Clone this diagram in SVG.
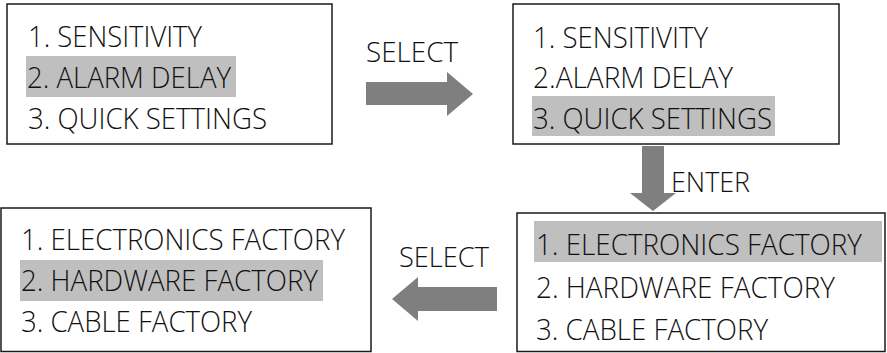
<svg xmlns="http://www.w3.org/2000/svg" width="887" height="353" viewBox="0 0 887 353">
<style>
.box{fill:#fff;stroke:#1a1a1a;stroke-width:1.5}
.hl{fill:#bfbfbf}
.t{font-family:"Open Sans","Noto Sans","Liberation Sans",sans-serif;font-weight:300;font-size:30px;fill:#111}
.t3{font-size:29px}
.lbl{font-family:"Open Sans","Noto Sans","Liberation Sans",sans-serif;font-weight:300;font-size:27.5px;fill:#111}
.arr{fill:#7f7f7f}
</style>
<rect width="887" height="353" fill="#fff"/>
<g id="menu1">
<rect class="box" x="7" y="4" width="325" height="140"/>
<rect class="hl" x="26" y="56" width="210" height="41"/>
<text class="t" x="28" y="47" textLength="174" lengthAdjust="spacingAndGlyphs">1. SENSITIVITY</text>
<text class="t" x="27" y="88" textLength="204" lengthAdjust="spacingAndGlyphs">2. ALARM DELAY</text>
<text class="t" x="28" y="129" textLength="239" lengthAdjust="spacingAndGlyphs">3. QUICK SETTINGS</text>
</g>
<g id="menu2">
<rect class="box" x="513" y="4" width="326" height="140"/>
<rect class="hl" x="532" y="96" width="243" height="40"/>
<text class="t" x="533" y="48" textLength="175" lengthAdjust="spacingAndGlyphs">1. SENSITIVITY</text>
<text class="t" x="533" y="88" textLength="200" lengthAdjust="spacingAndGlyphs">2.ALARM DELAY</text>
<text class="t" x="533" y="129" textLength="239" lengthAdjust="spacingAndGlyphs">3. QUICK SETTINGS</text>
</g>
<g id="menu3">
<rect class="box" x="517" y="213" width="368" height="138.5"/>
<rect class="hl" x="534" y="221" width="348" height="41"/>
<text class="t t3" x="536" y="255" textLength="326" lengthAdjust="spacingAndGlyphs">1. ELECTRONICS FACTORY</text>
<text class="t" x="536" y="298" textLength="299" lengthAdjust="spacingAndGlyphs">2. HARDWARE FACTORY</text>
<text class="t" x="536" y="340" textLength="232" lengthAdjust="spacingAndGlyphs">3. CABLE FACTORY</text>
</g>
<g id="menu4">
<rect class="box" x="1" y="208" width="370" height="143.5"/>
<rect class="hl" x="20" y="260" width="303" height="41"/>
<text class="t" x="21" y="250" textLength="324" lengthAdjust="spacingAndGlyphs">1. ELECTRONICS FACTORY</text>
<text class="t" x="21" y="291" textLength="297" lengthAdjust="spacingAndGlyphs">2. HARDWARE FACTORY</text>
<text class="t" x="21" y="332" textLength="231" lengthAdjust="spacingAndGlyphs">3. CABLE FACTORY</text>
</g>
<g id="connectors">
<path class="arr" d="M366,82 H447 V72 L473,94 L447,116 V105 H366 Z"/>
<text class="lbl" x="366" y="62" textLength="92" lengthAdjust="spacingAndGlyphs">SELECT</text>
<path class="arr" d="M642,146 H664 V193 H676 L653,211 L630,193 H642 Z"/>
<text class="lbl" x="671" y="192" textLength="79" lengthAdjust="spacingAndGlyphs">ENTER</text>
<path class="arr" d="M497,287 H418 V277 L392,299 L418,321 V311 H497 Z"/>
<text class="lbl" x="399" y="267" textLength="90" lengthAdjust="spacingAndGlyphs">SELECT</text>
</g>
</svg>
